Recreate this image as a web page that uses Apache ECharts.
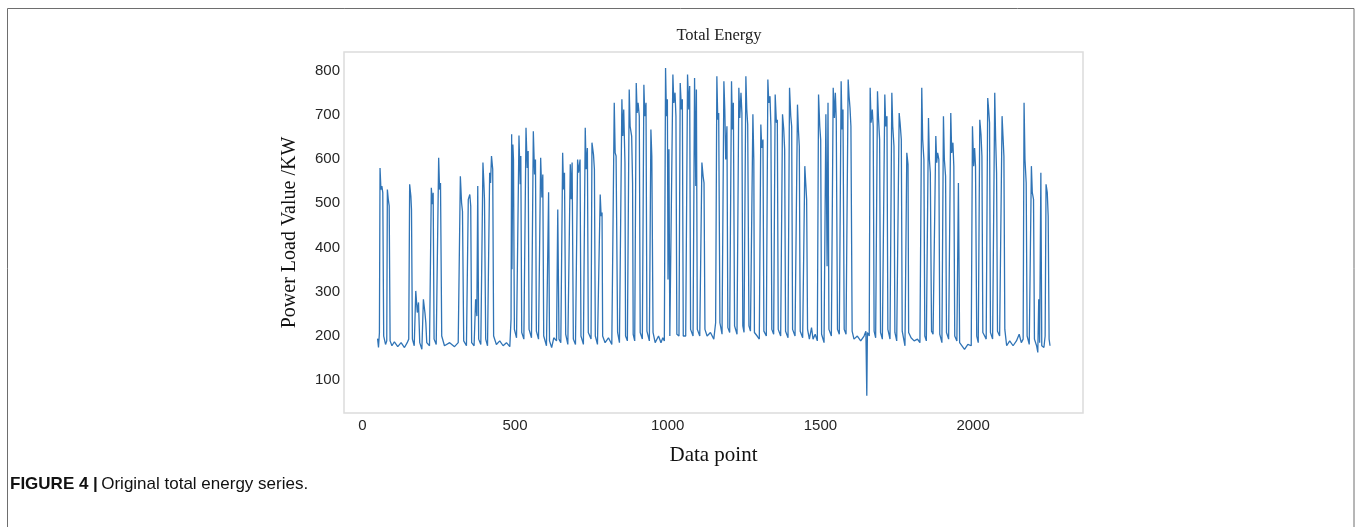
<!DOCTYPE html>
<html>
<head>
<meta charset="utf-8">
<script src="https://cdn.jsdelivr.net/npm/echarts@6/dist/echarts.min.js"></script>
<style>html,body{margin:0;padding:0;background:#fff;}#c{width:1355px;height:527px;}</style>
</head>
<body>
<div id="c"></div>
<script>
// Data point index (x) and power load value in KW (y)
const pointX = [50,53,56,58,61,64,67,70,76,80,82,85,88,91,97,105,116,127,138,147,152,155,159,161,164,170,175,180,184,188,195,200,205,208,211,220,226,229,232,235,242,250,253,256,260,269,286,302,314,321,325,328,332,341,347,352,355,358,366,371,375,378,381,388,395,398,400,404,410,417,420,423,427,430,439,450,461,472,483,487,489,490,493,495,498,505,513,517,519,522,529,536,540,543,546,554,560,564,567,570,577,584,588,591,594,603,610,613,620,627,636,640,644,650,656,659,662,666,673,681,684,687,691,698,705,708,713,716,724,730,733,737,740,749,752,757,760,763,770,779,782,785,787,795,806,817,825,828,831,836,842,850,853,856,860,862,868,874,877,882,885,887,892,897,900,903,907,910,917,922,925,929,932,940,945,948,952,959,970,978,984,989,993,996,999,1001,1004,1007,1013,1017,1020,1024,1027,1030,1037,1041,1045,1048,1051,1059,1065,1069,1072,1075,1083,1088,1092,1094,1097,1105,1112,1116,1119,1122,1129,1140,1151,1157,1161,1164,1167,1171,1178,1184,1187,1190,1194,1197,1203,1209,1212,1215,1219,1227,1233,1236,1240,1243,1246,1250,1256,1259,1262,1266,1271,1279,1282,1284,1293,1300,1305,1308,1312,1315,1323,1328,1331,1335,1338,1341,1347,1352,1356,1359,1362,1370,1376,1380,1383,1386,1394,1399,1403,1406,1409,1417,1425,1428,1431,1434,1442,1449,1452,1455,1458,1464,1471,1476,1483,1490,1494,1498,1501,1504,1512,1518,1522,1525,1528,1536,1542,1546,1549,1552,1556,1562,1568,1571,1574,1578,1584,1591,1594,1597,1600,1604,1610,1621,1632,1643,1649,1652,1654,1660,1663,1666,1670,1673,1676,1681,1687,1690,1694,1697,1703,1711,1714,1718,1721,1728,1734,1737,1741,1744,1750,1758,1761,1765,1768,1777,1783,1787,1789,1797,1807,1818,1826,1832,1835,1839,1842,1847,1854,1857,1860,1864,1869,1874,1878,1881,1884,1888,1891,1898,1903,1906,1910,1913,1920,1927,1930,1934,1937,1940,1947,1952,1956,1961,1972,1983,1994,1998,2002,2005,2008,2012,2017,2022,2026,2029,2032,2038,2043,2048,2051,2054,2057,2064,2071,2074,2077,2080,2087,2095,2098,2101,2104,2110,2120,2131,2142,2151,2158,2164,2167,2170,2174,2177,2184,2191,2194,2198,2201,2208,2212,2215,2218,2222,2225,2232,2236,2239,2243,2246,2249,2252];
const loadKW = [194,174,208,580,531,539,524,200,181,189,531,509,494,189,178,187,176,185,174,185,193,543,516,486,193,178,302,253,276,185,170,283,253,230,185,178,535,498,524,193,181,603,531,546,200,178,185,176,185,561,501,482,189,178,509,520,494,185,178,283,245,539,193,181,592,546,509,193,178,569,546,607,577,200,181,189,178,185,176,238,656,351,633,599,215,196,653,543,607,208,193,671,580,618,215,196,663,565,599,211,193,603,513,565,200,178,525,189,174,196,189,486,193,185,614,531,569,204,181,588,509,592,193,181,599,569,599,200,181,671,577,625,208,193,637,610,577,200,181,520,471,479,200,185,196,181,727,614,607,208,185,735,652,712,592,200,189,757,674,652,546,204,189,772,704,727,697,208,193,768,697,727,211,189,667,607,208,185,200,185,196,189,806,697,735,328,622,200,196,791,727,750,697,204,200,772,712,735,200,200,791,712,765,215,200,783,539,757,215,200,592,561,546,215,200,208,193,230,787,689,704,230,204,776,712,599,674,219,208,776,667,727,223,204,761,693,750,704,223,208,787,712,678,223,211,701,599,208,200,193,678,625,644,211,200,780,727,742,674,215,204,746,682,689,215,200,701,667,622,211,196,761,697,674,215,200,723,667,629,211,196,584,546,509,215,193,219,193,204,189,746,674,644,204,185,701,358,727,215,200,761,693,750,689,215,204,776,667,712,215,204,780,742,716,674,211,193,200,189,200,211,65,208,200,761,682,712,674,211,196,753,697,644,208,193,746,674,697,215,193,750,674,629,208,189,704,682,644,211,178,614,588,208,196,189,193,185,761,644,599,200,189,693,599,569,211,204,200,652,592,614,599,204,185,697,599,561,208,193,704,614,637,584,200,189,546,185,181,170,181,178,674,584,625,584,200,185,689,655,607,208,200,193,738,712,682,208,193,750,644,569,211,200,697,652,607,215,178,189,178,189,204,185,193,727,599,546,200,181,584,524,509,193,178,163,283,185,569,178,174,200,543,524,471,193,178];
const xTickValues = [0, 500, 1000, 1500, 2000];
const yTickValues = [100, 200, 300, 400, 500, 600, 700, 800];

const seriesData = pointX.map((x, i) => [x, loadKW[i]]);

const chart = echarts.init(document.getElementById('c'), null, {renderer: 'canvas'});
chart.setOption({
  animation: false,
  backgroundColor: '#ffffff',
  title: {
    text: 'Total Energy',
    left: 714,
    textAlign: 'center',
    top: 22,
    textStyle: {fontFamily: 'Liberation Serif', fontSize: 16.5, fontWeight: 'normal', color: '#222'}
  },
  grid: {left: 344, top: 52, right: 272, bottom: 114, show: true, borderColor: '#dcdcdc', borderWidth: 1.5, backgroundColor: '#fff'},
  xAxis: {
    type: 'value', min: -60, max: 2360,
    axisLine: {show: false}, axisTick: {show: false}, splitLine: {show: false},
    axisLabel: {customValues: xTickValues, formatter: v => String(v), fontFamily: 'Liberation Sans', fontSize: 15, color: '#262626', margin: 5},
    name: 'Data point', nameLocation: 'middle', nameGap: 32,
    nameTextStyle: {fontFamily: 'Liberation Serif', fontSize: 21, color: '#111'}
  },
  yAxis: {
    type: 'value', min: 26, max: 842,
    axisLine: {show: false}, axisTick: {show: false}, splitLine: {show: false},
    axisLabel: {customValues: yTickValues, formatter: v => String(v), fontFamily: 'Liberation Sans', fontSize: 15, color: '#262626', margin: 4},
    name: 'Power Load Value /KW', nameLocation: 'middle', nameGap: 44,
    nameTextStyle: {fontFamily: 'Liberation Serif', fontSize: 20, color: '#111'}
  },
  series: [{
    type: 'line', data: seriesData, showSymbol: false, symbol: 'none',
    lineStyle: {width: 1.3, color: '#3074b6'}, itemStyle: {color: '#3074b6'}
  }],
  graphic: [
    {type: 'rect', shape: {x: 7.5, y: 8.5, width: 1346.5, height: 540}, style: {fill: 'none', stroke: '#6e6e6e', lineWidth: 1}, silent: true},
    {type: 'text', left: 10, top: 476, style: {
      text: '{b|FIGURE 4 |} {r|Original total energy series.}',
      rich: {
        b: {fontFamily: 'Liberation Sans', fontWeight: 'bold', fontSize: 17, fill: '#111'},
        r: {fontFamily: 'Liberation Sans', fontSize: 17, fill: '#111'}
      }
    }}
  ]
});
</script>
</body>
</html>
